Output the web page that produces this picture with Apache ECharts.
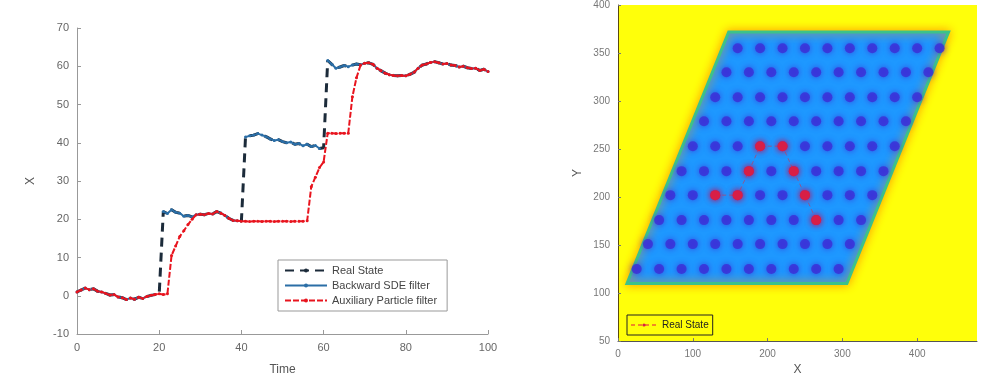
<!DOCTYPE html>
<html>
<head>
<meta charset="utf-8">
<script src="https://cdn.jsdelivr.net/npm/echarts@6/dist/echarts.min.js"></script>
<style>
  html, body { margin: 0; padding: 0; background: #fff; }
  #chart { width: 1007px; height: 381px; }
</style>
</head>
<body>
<div id="chart"></div>
<script>
// left panel: time series
const time = [0,1,2,3,4,5,6,7,8,9,10,11,12,13,14,15,16,17,18,19,20,21,22,23,24,25,26,27,28,29,30,31,32,33,34,35,36,37,38,39,40,41,42,43,44,45,46,47,48,49,50,51,52,53,54,55,56,57,58,59,60,61,62,63,64,65,66,67,68,69,70,71,72,73,74,75,76,77,78,79,80,81,82,83,84,85,86,87,88,89,90,91,92,93,94,95,96,97,98,99,100];

const realState = [
  1.0, 1.5, 2.0, 1.6, 1.8, 1.2, 1.0, 0.6, 0.2, 0.3,
  -0.3, -0.5, -1.0, -0.6, -0.9, -0.4, -0.7, -0.2, 0.1, 0.3,
  0.4, 22.0, 21.5, 22.5, 21.8, 21.6, 20.8, 21.0, 20.6, 21.2,
  21.3, 21.2, 21.5, 21.4, 22.0, 21.6, 21.0, 20.2, 19.7, 19.6,
  19.5, 41.5, 41.8, 42.0, 42.4, 42.0, 41.6, 41.0, 40.6, 40.8,
  40.3, 40.0, 40.2, 39.6, 39.8, 39.2, 39.6, 39.0, 39.3, 38.5,
  38.7, 61.5, 60.5, 59.5, 59.8, 60.2, 59.9, 60.3, 60.6, 60.4,
  60.8, 60.9, 60.5, 59.5, 58.8, 58.2, 57.8, 57.6, 57.5, 57.6,
  57.5, 57.9, 58.4, 59.5, 60.3, 60.6, 61.0, 61.2, 60.9, 60.6,
  60.7, 60.3, 60.2, 59.8, 60.0, 59.6, 59.4, 59.5, 58.9, 59.2,
  58.6
];

const backwardSde = [
  1.0, 1.5, 2.0, 1.6, 1.8, 1.2, 1.0, 0.6, 0.2, 0.3,
  -0.3, -0.5, -1.0, -0.6, -0.9, -0.4, -0.7, -0.2, 0.1, 0.3,
  null, 22.0, 21.5, 22.5, 21.8, 21.6, 20.8, 21.0, 20.6, 21.2,
  21.3, 21.2, 21.5, 21.4, 22.0, 21.6, 21.0, 20.2, 19.7, 19.6,
  null, 41.5, 41.8, 42.0, 42.4, 42.0, 41.6, 41.0, 40.6, 40.8,
  40.3, 40.0, 40.2, 39.6, 39.8, 39.2, 39.6, 39.0, 39.3, 38.5,
  null, 61.5, 60.5, 59.5, 59.8, 60.2, 59.9, 60.3, 60.6, 60.4,
  60.8, 60.9, 60.5, 59.5, 58.8, 58.2, 57.8, 57.6, 57.5, 57.6,
  57.5, 57.9, 58.4, 59.5, 60.3, 60.6, 61.0, 61.2, 60.9, 60.6,
  60.7, 60.3, 60.2, 59.8, 60.0, 59.6, 59.4, 59.5, 58.9, 59.2,
  58.6
];

const auxParticle = [
  1.0, 1.5, 2.0, 1.6, 1.8, 1.2, 1.0, 0.6, 0.2, 0.3,
  -0.3, -0.5, -1.0, -0.6, -0.9, -0.4, -0.7, -0.2, 0.1, 0.3,
  0.5, 0.3, 0.5, 10.5, 13.0, 15.5, 17.0, 18.6, 20.0, 21.2,
  21.3, 21.2, 21.5, 21.4, 22.0, 21.6, 21.0, 20.2, 19.7, 19.6,
  19.5, 19.5, 19.4, 19.5, 19.5, 19.4, 19.5, 19.5, 19.4, 19.5,
  19.5, 19.5, 19.4, 19.5, 19.5, 19.5, 19.6, 28.5, 31.0, 33.5,
  35.0, 42.5, 42.5, 42.4, 42.5, 42.5, 42.5, 52.0, 57.0, 60.3,
  60.8, 60.9, 60.5, 59.5, 58.8, 58.2, 57.8, 57.6, 57.5, 57.6,
  57.5, 57.9, 58.4, 59.5, 60.3, 60.6, 61.0, 61.2, 60.9, 60.6,
  60.7, 60.3, 60.2, 59.8, 60.0, 59.6, 59.4, 59.5, 58.9, 59.2,
  58.6
];

// right panel: lattice map
const regionX = [12, 148, 442, 306];
const regionY = [110, 372, 372, 110];
const rowY = [125, 151, 176, 202, 227, 253, 279, 304, 330, 355];
const rowStartX = [25, 40, 55, 70, 85, 100, 115, 130, 145, 160];
const colOffset = [0, 30, 60, 90, 120, 150, 180, 210, 240, 270];
const pathX = [130, 160, 175, 190, 220, 235, 250, 265];
const pathY = [202, 202, 227, 253, 253, 227, 202, 176];

const pairs = (xs, ys) => xs.map((x, i) => [x, ys[i]]);
const latticeDots = [];
rowY.forEach((y, r) => colOffset.forEach(o => latticeDots.push([rowStartX[r] + o, y])));
const regionCorners = pairs(regionX, regionY);

const myChart = echarts.init(document.getElementById('chart'));
const tickLabel = { color: '#666', fontSize: 11, fontFamily: 'Liberation Sans, Arial' };

myChart.setOption({
  animation: false,
  textStyle: { fontFamily: 'Liberation Sans, Arial' },
  grid: [
    { left: 77, right: 519, top: 28, bottom: 46 },
    { left: 618, right: 30, top: 5, bottom: 36, show: true, backgroundColor: '#ffff0a', borderWidth: 0 },
  ],
  legend: [
    {
      data: ['Real State', 'Backward SDE filter', 'Auxiliary Particle filter'],
      orient: 'vertical',
      left: 278,
      top: 260,
      width: 197,
      itemWidth: 42,
      itemHeight: 5,
      itemGap: 4,
      padding: [5, 10, 5, 6],
      borderColor: '#999',
      borderWidth: 1,
      backgroundColor: '#fff',
      textStyle: { color: '#444', fontSize: 11 },
    },
    {
      data: ['Real State path'],
      formatter: () => 'Real State',
      left: 627,
      top: 315,
      itemWidth: 26,
      itemHeight: 4,
      padding: [5, 4, 5, 3],
      borderColor: '#222',
      borderWidth: 1,
      textStyle: { color: '#222', fontSize: 10 },
    },
  ],
  xAxis: [
    {
      gridIndex: 0,
      type: 'value',
      min: 0,
      max: 100,
      interval: 20,
      name: 'Time',
      nameLocation: 'middle',
      nameGap: 30,
      nameTextStyle: { color: '#555', fontSize: 12 },
      axisLine: { onZero: false, lineStyle: { color: '#999' } },
      axisTick: { inside: true, length: 4, lineStyle: { color: '#999' } },
      axisLabel: tickLabel,
      splitLine: { show: false },
    },
    {
      gridIndex: 1,
      type: 'value',
      min: 0,
      max: 480,
      interval: 100,
      name: 'X',
      nameLocation: 'middle',
      nameGap: 22,
      nameTextStyle: { color: '#555', fontSize: 12 },
      axisLine: { onZero: false, lineStyle: { color: '#555' } },
      axisTick: { inside: true, length: 3, lineStyle: { color: '#777' } },
      axisLabel: { color: '#777', fontSize: 10, showMaxLabel: false },
      splitLine: { show: false },
    },
  ],
  yAxis: [
    {
      gridIndex: 0,
      type: 'value',
      min: -10,
      max: 70,
      interval: 10,
      name: 'X',
      nameLocation: 'middle',
      nameGap: 40,
      nameTextStyle: { color: '#555', fontSize: 12 },
      axisLine: { show: true, onZero: false, lineStyle: { color: '#999' } },
      axisTick: { show: true, inside: true, length: 4, lineStyle: { color: '#999' } },
      axisLabel: tickLabel,
      splitLine: { show: false },
    },
    {
      gridIndex: 1,
      type: 'value',
      min: 50,
      max: 400,
      interval: 50,
      name: 'Y',
      nameLocation: 'middle',
      nameGap: 34,
      nameTextStyle: { color: '#555', fontSize: 12 },
      axisLine: { show: true, onZero: false, lineStyle: { color: '#5a4a10' } },
      axisTick: { show: true, inside: true, length: 3, lineStyle: { color: '#777' } },
      axisLabel: { color: '#777', fontSize: 10 },
      splitLine: { show: false },
    },
  ],
  series: [
    {
      name: 'Real State',
      type: 'line',
      xAxisIndex: 0,
      yAxisIndex: 0,
      data: pairs(time, realState),
      symbol: 'none',
      lineStyle: { color: '#1c2b3a', width: 3, type: [9, 6] },
      itemStyle: { color: '#1c2b3a' },
      z: 2,
    },
    {
      name: 'Backward SDE filter',
      type: 'line',
      xAxisIndex: 0,
      yAxisIndex: 0,
      data: pairs(time, backwardSde),
      symbol: 'circle',
      symbolSize: 3,
      connectNulls: false,
      lineStyle: { color: '#2b6ea6', width: 2 },
      itemStyle: { color: '#2b6ea6' },
      z: 3,
    },
    {
      name: 'Auxiliary Particle filter',
      type: 'line',
      xAxisIndex: 0,
      yAxisIndex: 0,
      data: pairs(time, auxParticle),
      symbol: 'circle',
      symbolSize: 3,
      lineStyle: { color: '#e8141e', width: 2, type: [6, 2] },
      itemStyle: { color: '#e8141e' },
      z: 4,
    },
    {
      type: 'custom',
      xAxisIndex: 1,
      yAxisIndex: 1,
      data: [0],
      silent: true,
      z: 1,
      renderItem: (params, api) => ({
        type: 'polygon',
        shape: { points: regionCorners.map(c => api.coord(c)) },
        style: {
          fill: '#1e98ff',
          stroke: '#3cc28a',
          lineWidth: 3,
          shadowBlur: 10,
          shadowColor: 'rgba(255,150,0,0.9)',
        },
      }),
    },
    {
      type: 'scatter',
      xAxisIndex: 1,
      yAxisIndex: 1,
      data: latticeDots,
      symbolSize: 10,
      silent: true,
      itemStyle: { color: '#3c2cd6', shadowBlur: 6, shadowColor: '#3c2cd6' },
      z: 2,
    },
    {
      name: 'Real State path',
      type: 'line',
      xAxisIndex: 1,
      yAxisIndex: 1,
      data: pairs(pathX, pathY),
      symbol: 'circle',
      symbolSize: 10,
      lineStyle: { color: 'rgba(230,40,60,0.55)', width: 1, type: [4, 3] },
      itemStyle: { color: '#d81e46', shadowBlur: 6, shadowColor: '#e0204a' },
      z: 3,
    },
  ],
});
</script>
</body>
</html>
